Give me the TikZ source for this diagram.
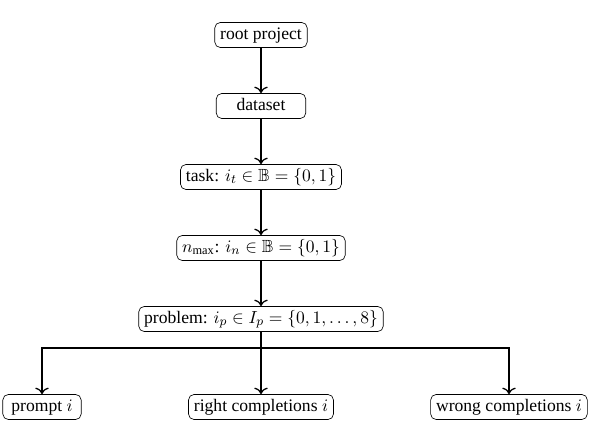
\documentclass[tikz,border=0pt]{standalone}
\usepackage{fontspec}
\setmainfont{Liberation Serif}
\usepackage{amssymb}
\usepackage{amsmath}
\usetikzlibrary{arrows.meta}

\begin{document}
\begin{tikzpicture}[x=0.625pt,y=-0.625pt,
		box/.style={draw, thin, rounded corners=3.5pt, font=\fontsize{11pt}{13pt}\selectfont, text height=7.6pt, text depth=2.3pt, inner xsep=3.4pt, inner ysep=2.9pt},
		link/.style={-{To[scale=1.2]}, thick}]
			\useasboundingbox (0,0) rectangle (595,425);
			% levels
			\node[box] (root) at (261,35) {root project};
			\node[box, minimum width=56pt] (dataset) at (261,106) {dataset};
			\node[box] (task) at (261,177) {task: $i_t \in \mathbb{B} = \{0,1\}$};
			\node[box] (nmax) at (261,248) {$n_{\max}$: $i_n \in \mathbb{B} = \{0,1\}$};
			\node[box] (problem) at (261,319) {problem: $i_p \in I_p = \{0,1,\ldots,8\}$};
			% leaves
			\node[box, minimum width=49pt] (prompt) at (42,407) {prompt $i$};
			\node[box] (right) at (261,407) {right completions $i$};
			\node[box] (wrong) at (509,407) {wrong completions $i$};
			\coordinate (split) at (261,348);
			% arrows
			\draw[link] (root) -- (dataset);
			\draw[link] (dataset) -- (task);
			\draw[link] (task) -- (nmax);
			\draw[link] (nmax) -- (problem);
			\draw[link] (problem) -- (right);
			\draw[link] (problem.south) -- (split) -| (prompt);
			\draw[link] (split) -| (wrong);
		\end{tikzpicture}
\end{document}
